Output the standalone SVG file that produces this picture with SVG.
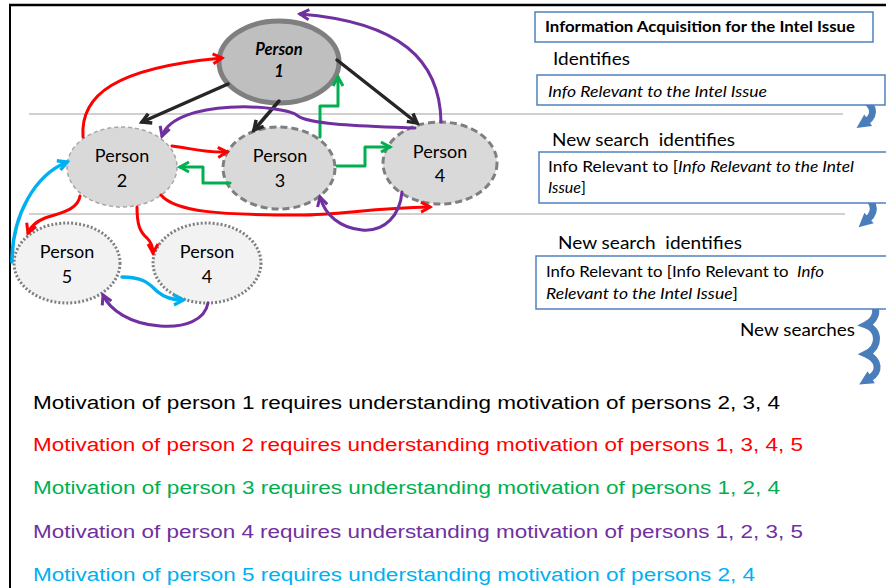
<svg xmlns="http://www.w3.org/2000/svg" width="886" height="588" viewBox="0 0 886 588">
<style>
.lbl{font-family:Lato,"Liberation Sans",sans-serif;font-size:18px;fill:#000;text-anchor:middle}
.rt{font-family:Lato,"Liberation Sans",sans-serif;fill:#000}
.box{fill:#fff;stroke:#4f81bd;stroke-width:1.5}
.mot{font-family:"Liberation Sans",Arial,sans-serif;font-size:18px}
.c{fill:none;stroke-width:3;stroke-linecap:round;stroke-linejoin:round}
.blk{stroke:#262626;stroke-width:3.5}
.red{stroke:#ff0000}
.grn{stroke:#00b050}
.pur{stroke:#7030a0}
.blu{stroke:#00b0f0;stroke-width:3.5}
.ba{fill:none;stroke:#4a7ebb;stroke-width:7;stroke-linecap:butt}
</style>
<defs>
<marker id="mk" viewBox="0 0 12 12" refX="10" refY="6" markerWidth="12" markerHeight="12" markerUnits="userSpaceOnUse" orient="auto" overflow="visible"><path d="M1,1 L10,6 L1,11" fill="none" stroke="#262626" stroke-width="3.5"/></marker>
<marker id="mr" viewBox="0 0 12 12" refX="10" refY="6" markerWidth="12" markerHeight="12" markerUnits="userSpaceOnUse" orient="auto" overflow="visible"><path d="M1,1 L10,6 L1,11" fill="none" stroke="#ff0000" stroke-width="3"/></marker>
<marker id="mg" viewBox="0 0 12 12" refX="10" refY="6" markerWidth="12" markerHeight="12" markerUnits="userSpaceOnUse" orient="auto" overflow="visible"><path d="M1,1 L10,6 L1,11" fill="none" stroke="#00b050" stroke-width="3"/></marker>
<marker id="mp" viewBox="0 0 12 12" refX="10" refY="6" markerWidth="12" markerHeight="12" markerUnits="userSpaceOnUse" orient="auto" overflow="visible"><path d="M1,1 L10,6 L1,11" fill="none" stroke="#7030a0" stroke-width="3"/></marker>
<marker id="mb" viewBox="0 0 12 12" refX="10" refY="6" markerWidth="12" markerHeight="12" markerUnits="userSpaceOnUse" orient="auto" overflow="visible"><path d="M1,1 L10,6 L1,11" fill="none" stroke="#00b0f0" stroke-width="3.5"/></marker>
<marker id="mbl" viewBox="0 0 10 10" refX="1" refY="5" markerWidth="14" markerHeight="14" markerUnits="userSpaceOnUse" orient="auto" overflow="visible"><path d="M0,0 L10,5 L0,10 z" fill="#4a7ebb"/></marker>
</defs>

<!-- frame -->
<g id="frame">
<line x1="9" y1="5" x2="886" y2="5" stroke="#000" stroke-width="2.5"/>
<line x1="10" y1="4" x2="10" y2="588" stroke="#000" stroke-width="2"/>
<line x1="29" y1="114" x2="843" y2="114" stroke="#c0c0c0" stroke-width="1.5"/>
<line x1="29" y1="214" x2="845" y2="214" stroke="#c0c0c0" stroke-width="1.5"/>
</g>

<!-- nodes -->
<g id="person1"><ellipse cx="279" cy="62" rx="60" ry="41" fill="#bfbfbf" stroke="#7f7f7f" stroke-width="5"/>
<text class="lbl" x="279" y="55" style="font-weight:bold;font-style:italic;font-size:16.5px">Person</text>
<text class="lbl" x="279" y="77" style="font-weight:bold;font-style:italic;font-size:16.5px">1</text></g>
<g id="person2"><ellipse cx="122" cy="167" rx="55" ry="40" fill="#d9d9d9" stroke="#a6a6a6" stroke-width="1.5" stroke-dasharray="4 3"/>
<text class="lbl" x="122" y="162">Person</text><text class="lbl" x="122" y="187">2</text></g>
<g id="person3"><ellipse cx="279" cy="168" rx="56" ry="41" fill="#d9d9d9" stroke="#7f7f7f" stroke-width="3" stroke-dasharray="7 4"/>
<text class="lbl" x="280" y="162">Person</text><text class="lbl" x="280" y="187">3</text></g>
<g id="person4"><ellipse cx="440" cy="163" rx="57" ry="41" fill="#d9d9d9" stroke="#7f7f7f" stroke-width="3" stroke-dasharray="7 4"/>
<text class="lbl" x="440" y="158">Person</text><text class="lbl" x="440" y="182">4</text></g>
<g id="person5"><ellipse cx="67" cy="263" rx="53" ry="40" fill="#f2f2f2" stroke="#7f7f7f" stroke-width="3" stroke-dasharray="2 2"/>
<text class="lbl" x="67" y="258">Person</text><text class="lbl" x="67" y="283">5</text></g>
<g id="person4b"><ellipse cx="207" cy="263" rx="54" ry="40" fill="#f2f2f2" stroke="#7f7f7f" stroke-width="3" stroke-dasharray="2 2"/>
<text class="lbl" x="207" y="258">Person</text><text class="lbl" x="207" y="283">4</text></g>

<!-- connectors -->
<g id="connectors">
<path class="c blk" d="M228,84 L142,122" marker-end="url(#mk)"/>
<path class="c blk" d="M279,101 L254,130" marker-end="url(#mk)"/>
<path class="c blk" d="M337,60 L417,123" marker-end="url(#mk)"/>

<path class="c red" d="M83,137 C80,95 115,68 222,58" marker-end="url(#mr)"/>
<path class="c red" d="M172,146 C190,148 205,153 227,152" marker-end="url(#mr)"/>
<path class="c red" d="M161,195 C175,212 220,215 300,215 C340,215 370,208 430,207" marker-end="url(#mr)"/>
<path class="c red" d="M80,196 C78,210 60,213 45,218 C35,222 30,228 28,233" marker-end="url(#mr)"/>
<path class="c red" d="M137,207 C137,225 140,232 147,238 C152,243 153,248 153,253" marker-end="url(#mr)"/>

<path class="c grn" d="M320,137 L320,106 L338,106 L338,77" marker-end="url(#mg)"/>
<path class="c grn" d="M337,166 L365,166 L365,147 L390,147" marker-end="url(#mg)"/>
<path class="c grn" d="M230,183 L203,183 L203,167 L180,167" marker-end="url(#mg)"/>

<path class="c pur" d="M441,122 C440,60 400,22 300,14" marker-end="url(#mp)"/>
<path class="c pur" d="M415,128 C370,126 310,125 298,116 C285,104 175,98 162,136" marker-end="url(#mp)"/>
<path class="c pur" d="M402,192 C400,215 385,232 362,230 C340,228 325,215 320,197" marker-end="url(#mp)"/>
<path class="c pur" d="M208,303 C205,320 185,328 160,326 C130,324 110,310 103,295" marker-end="url(#mp)"/>

<path class="c blu" d="M12,262 C12,215 35,175 67,162" marker-end="url(#mb)"/>
<path class="c blu" d="M122,277 C145,277 150,285 158,292 C165,298 172,300 183,300" marker-end="url(#mb)"/>

<path class="ba" d="M857,98 C875,102 876,115 867,121" marker-end="url(#mbl)"/>
<path class="ba" d="M857,193 C875,198 877,211 868,219" marker-end="url(#mbl)"/>
<path class="ba" d="M859,297 C880,300 880,318 866,325 C880,330 880,347 866,354 C880,360 880,372 870,378" marker-end="url(#mbl)"/>
</g>

<!-- right column -->
<g id="box1"><rect class="box" x="535" y="12" width="338" height="30"/>
<text class="rt" x="545" y="32" style="font-weight:bold;font-size:15.5px" textLength="310" lengthAdjust="spacingAndGlyphs">Information Acquisition for the Intel Issue</text></g>
<text class="rt" x="553" y="65" style="font-size:18px" textLength="77" lengthAdjust="spacingAndGlyphs">Identifies</text>
<g id="box2"><rect class="box" x="537" y="75" width="348" height="30"/>
<text class="rt" x="548" y="97" style="font-style:italic;font-size:16px" textLength="219" lengthAdjust="spacingAndGlyphs">Info Relevant to the Intel Issue</text></g>
<text class="rt" x="552" y="146" style="font-size:18px" xml:space="preserve" textLength="183" lengthAdjust="spacingAndGlyphs">New search  identifies</text>
<g id="box3"><rect class="box" x="539" y="152" width="352" height="51"/>
<text class="rt" x="548" y="172" style="font-size:16px" textLength="306" lengthAdjust="spacingAndGlyphs">Info Relevant to [<tspan font-style="italic">Info Relevant to the Intel</tspan></text>
<text class="rt" x="548" y="193" style="font-size:16px"><tspan font-style="italic">Issue</tspan>]</text></g>
<text class="rt" x="558" y="249" style="font-size:18px" xml:space="preserve" textLength="184" lengthAdjust="spacingAndGlyphs">New search  identifies</text>
<g id="box4"><rect class="box" x="536" y="256" width="355" height="53"/>
<text class="rt" x="546" y="277" style="font-size:16px" xml:space="preserve" textLength="278" lengthAdjust="spacingAndGlyphs">Info Relevant to [Info Relevant to  <tspan font-style="italic">Info</tspan></text>
<text class="rt" x="546" y="299" style="font-size:16px" textLength="192" lengthAdjust="spacingAndGlyphs"><tspan font-style="italic">Relevant to the Intel Issue</tspan>]</text></g>
<text class="rt" x="740" y="336" style="font-size:18px" textLength="115" lengthAdjust="spacingAndGlyphs">New searches</text>

<!-- legend -->
<g id="legend">
<text class="mot" x="33" y="409" fill="#000000" textLength="747" lengthAdjust="spacingAndGlyphs">Motivation of person 1 requires understanding motivation of persons 2, 3, 4</text>
<text class="mot" x="33" y="451" fill="#ff0000" textLength="770" lengthAdjust="spacingAndGlyphs">Motivation of person 2 requires understanding motivation of persons 1, 3, 4, 5</text>
<text class="mot" x="33" y="494" fill="#00b050" textLength="747" lengthAdjust="spacingAndGlyphs">Motivation of person 3 requires understanding motivation of persons 1, 2, 4</text>
<text class="mot" x="33" y="538" fill="#7030a0" textLength="770" lengthAdjust="spacingAndGlyphs">Motivation of person 4 requires understanding motivation of persons 1, 2, 3, 5</text>
<text class="mot" x="33" y="581" fill="#00b0f0" textLength="722" lengthAdjust="spacingAndGlyphs">Motivation of person 5 requires understanding motivation of persons 2, 4</text>
</g>
</svg>
